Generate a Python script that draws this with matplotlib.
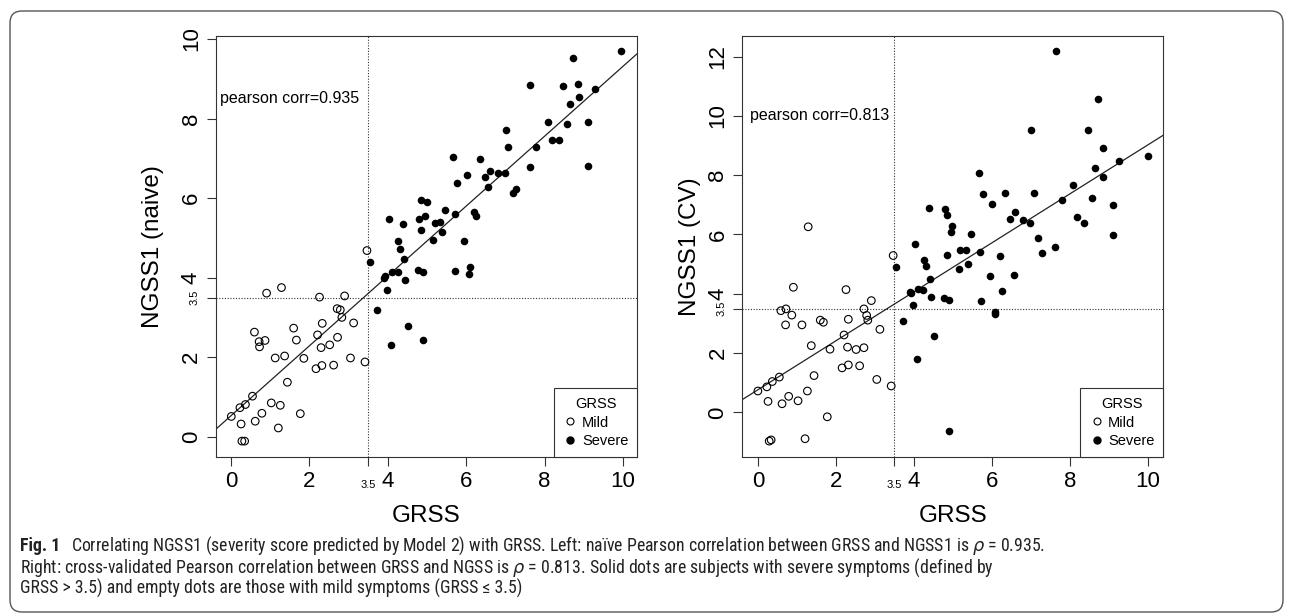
import numpy as np
import matplotlib
matplotlib.use("Agg")
import matplotlib.pyplot as plt
from matplotlib import font_manager
from matplotlib.patches import FancyBboxPatch
from matplotlib.lines import Line2D

# GRSS vs NGSS1 (naive) -- left panel
left_mild_x = [3.47, 0.91, 1.29, 2.26, 2.90, 2.71, 2.79, 2.83, 2.33, 3.13, 0.60, 0.72, 0.73, 0.87,
               1.60, 1.67, 2.21, 2.72, 2.30, 2.52, 1.13, 1.37, 1.86, 3.05, 3.42, 2.17, 2.32, 2.62,
               1.44, 0.55, 0.01, 0.23, 0.37, 1.03, 1.26, 0.79, 1.77, 0.26, 0.62, 1.21, 0.28, 0.35]
left_mild_y = [4.68, 3.61, 3.75, 3.51, 3.54, 3.22, 3.19, 3.00, 2.85, 2.86, 2.63, 2.39, 2.26, 2.42,
               2.73, 2.43, 2.56, 2.50, 2.24, 2.31, 1.98, 2.03, 1.97, 1.98, 1.88, 1.71, 1.79, 1.80,
               1.37, 1.02, 0.51, 0.73, 0.81, 0.85, 0.79, 0.59, 0.58, 0.32, 0.39, 0.22, -0.11, -0.11]
left_severe_x = [9.96, 8.72, 7.64, 8.47, 8.85, 9.28, 8.87, 8.66, 8.09, 8.58, 9.12, 7.01, 7.07, 7.79,
                 8.18, 8.37, 7.62, 9.12, 5.67, 6.35, 6.61, 6.48, 6.80, 6.99, 6.01, 5.77, 6.56, 7.20,
                 7.28, 4.85, 4.99, 5.45, 6.21, 6.26, 5.71, 4.95, 4.80, 4.04, 4.38, 5.21, 5.34, 4.84,
                 5.38, 5.16, 4.26, 5.95, 4.32, 4.41, 3.55, 6.09, 3.90, 3.93, 4.11, 4.25, 4.78, 4.89,
                 5.72, 6.07, 4.43, 3.98, 3.73, 4.51, 4.08, 4.91]
left_severe_y = [9.69, 9.52, 8.85, 8.83, 8.88, 8.74, 8.53, 8.36, 7.92, 7.86, 7.92, 7.72, 7.29, 7.29,
                 7.45, 7.47, 6.79, 6.80, 7.02, 6.98, 6.68, 6.52, 6.63, 6.64, 6.57, 6.37, 6.28, 6.14,
                 6.24, 5.96, 5.91, 5.71, 5.66, 5.54, 5.59, 5.56, 5.47, 5.47, 5.36, 5.37, 5.41, 5.20,
                 5.14, 4.95, 4.93, 4.92, 4.72, 4.48, 4.40, 4.27, 3.98, 4.05, 4.13, 4.14, 4.20, 4.14,
                 4.16, 4.08, 3.94, 3.69, 3.18, 2.79, 2.31, 2.42]

# GRSS vs NGSS1 (CV) -- right panel
right_mild_x = [0.00, 0.23, 0.37, 0.55, 0.26, 0.62, 0.79, 1.03, 1.27, 1.44, 1.37, 1.78, 0.29, 0.34,
                1.21, 1.29, 0.91, 0.59, 0.72, 0.87, 0.71, 1.13, 1.60, 1.68, 1.85, 2.26, 2.21, 2.32,
                2.30, 2.52, 2.72, 2.16, 2.32, 2.61, 2.72, 2.79, 2.82, 2.91, 3.13, 3.05, 3.42, 3.47]
right_mild_y = [0.72, 0.86, 1.04, 1.19, 0.37, 0.29, 0.54, 0.39, 0.72, 1.24, 2.25, -0.15, -0.97, -0.93,
                -0.89, 6.26, 4.22, 3.43, 3.49, 3.28, 2.95, 2.95, 3.11, 3.04, 2.13, 4.14, 2.61, 3.14,
                2.20, 2.12, 2.18, 1.50, 1.60, 1.57, 3.49, 3.27, 3.11, 3.77, 2.80, 1.11, 0.89, 5.29]
right_severe_x = [7.64, 8.73, 7.01, 8.48, 8.85, 10.00, 9.27, 8.66, 8.86, 8.09, 7.79, 8.58, 9.12,
                  5.67, 5.77, 6.35, 7.08, 6.01, 6.60, 6.48, 6.80, 6.99, 8.18, 8.37, 9.12, 4.38,
                  4.79, 4.85, 4.98, 4.95, 5.46, 4.04, 7.18, 7.61, 7.28, 5.19, 5.33, 5.71, 6.21,
                  4.84, 4.26, 4.31, 5.17, 5.39, 3.55, 4.42, 5.95, 6.56, 6.25, 3.91, 3.93, 4.11,
                  4.24, 4.43, 4.78, 4.90, 5.73, 3.99, 6.07, 6.09, 3.73, 4.52, 4.08, 4.91]
right_severe_y = [12.18, 10.56, 9.54, 9.53, 8.93, 8.64, 8.47, 8.23, 7.93, 7.68, 7.15, 7.24, 7.01,
                  8.08, 7.35, 7.41, 7.39, 7.04, 6.76, 6.53, 6.48, 6.40, 6.59, 6.40, 5.97, 6.90,
                  6.87, 6.67, 6.27, 6.07, 6.03, 5.68, 5.89, 5.59, 5.39, 5.46, 5.46, 5.42, 5.29,
                  5.31, 5.15, 4.95, 4.85, 5.00, 4.89, 4.51, 4.60, 4.63, 4.08, 4.06, 4.02, 4.15,
                  4.12, 3.88, 3.87, 3.79, 3.75, 3.61, 3.39, 3.31, 3.07, 2.59, 1.80, -0.64]

corr_left = 0.935
corr_right = 0.813
threshold = 3.5
x_ticks = [0, 2, 4, 6, 8, 10]
left_y_ticks = [0, 2, 4, 6, 8, 10]
right_y_ticks = [0, 2, 4, 6, 8, 10, 12]

plt.rcParams["font.family"] = ["Liberation Sans", "DejaVu Sans"]
plt.rcParams["mathtext.fontset"] = "dejavusans"

W, H = 1293, 615
fig = plt.figure(figsize=(W / 100, H / 100), dpi=100)


def r_lim(vals):
    lo, hi = min(vals), max(vals)
    pad = 0.04 * (hi - lo)
    return lo - pad, hi + pad


def draw_panel(ax, mx, my, sx, sy, corr, ylabel, yticks, text_xy, ylab_x):
    allx = np.array(mx + sx)
    ally = np.array(my + sy)
    ax.set_xlim(r_lim(allx))
    ax.set_ylim(r_lim(ally))

    ax.axvline(threshold, color="#333333", lw=0.8, ls=(0, (1, 1.5)), zorder=1)
    ax.axhline(threshold, color="#333333", lw=0.8, ls=(0, (1, 1.5)), zorder=1)

    # least squares line, like abline(lm(y ~ x))
    m, b = np.polyfit(allx, ally, 1)
    ax.axline((0, b), slope=m, color="#222222", lw=0.9, zorder=2)

    ax.scatter(mx, my, s=30, facecolors="none", edgecolors="black", linewidths=0.8, zorder=3)
    ax.scatter(sx, sy, s=30, color="black", linewidths=0, zorder=3)

    ax.text(text_xy[0], text_xy[1], f"pearson corr={corr}", fontsize=11.5,
            ha="left", va="center")

    ax.set_xticks(x_ticks)
    ax.set_yticks(yticks)
    ax.set_xticks([threshold], minor=True)
    ax.set_yticks([threshold], minor=True)
    ax.set_xticklabels([str(t) for t in x_ticks])
    ax.set_yticklabels([str(t) for t in yticks], rotation=90, va="center")
    ax.set_xticklabels(["3.5"], minor=True)
    ax.set_yticklabels(["3.5"], minor=True, rotation=90, va="center")

    ax.tick_params(which="both", direction="out", length=6.5, width=0.8, color="#333333")
    ax.tick_params(which="major", labelsize=16, pad=3.5)
    ax.tick_params(axis="x", which="minor", labelsize=8, pad=10)
    ax.tick_params(axis="y", which="minor", labelsize=8, pad=5)
    for sp in ax.spines.values():
        sp.set_linewidth(0.8)
        sp.set_color("#333333")

    ax.set_xlabel("GRSS", fontsize=17.5)
    ax.xaxis.label.set_verticalalignment("center")
    ax.xaxis.set_label_coords(0.5, -0.141)
    ax.set_ylabel(ylabel, fontsize=17.5)
    ax.yaxis.label.set_verticalalignment("center")
    ax.yaxis.set_label_coords(ylab_x, 0.5)

    handles = [
        Line2D([], [], ls="none", marker="o", ms=5, mfc="none", mec="black", mew=0.8),
        Line2D([], [], ls="none", marker="o", ms=5, mfc="black", mec="black"),
    ]
    leg = ax.legend(handles, ["Mild", "Severe"], title="GRSS", loc="lower right",
                    borderaxespad=0, fancybox=False, edgecolor="#333333", framealpha=1,
                    fontsize=10.5, title_fontsize=10.5, handlelength=1.0,
                    handletextpad=0.3, borderpad=0.6, labelspacing=0.3)
    leg.get_frame().set_linewidth(0.8)


ax1 = fig.add_axes([215.7 / W, 1 - 456.7 / H, 421.3 / W, 421.0 / H])
ax2 = fig.add_axes([742.3 / W, 1 - 456.7 / H, 421.0 / W, 421.0 / H])

draw_panel(ax1, left_mild_x, left_mild_y, left_severe_x, left_severe_y, corr_left,
           "NGSS1 (naive)", left_y_ticks, (-0.28, 8.5), -0.149)
draw_panel(ax2, right_mild_x, right_mild_y, right_severe_x, right_severe_y, corr_right,
           "NGSS1 (CV)", right_y_ticks, (-0.19, 10.0), -0.124)

# outer rounded frame
frame = FancyBboxPatch((10, H - 612), W - 20, 601, boxstyle="round,pad=0,rounding_size=12",
                       transform=None, fill=False, edgecolor="#555555", lw=1.0)
fig.patches.append(frame)

# caption
avail = {f.name for f in font_manager.fontManager.ttflist}
cap_font = next((f for f in ["Liberation Sans Narrow", "Roboto Condensed", "Open Sans", "Noto Sans"]
                 if f in avail), "DejaVu Sans")

cap_bold = "Fig. 1"
cap_lines = [
    "Correlating NGSS1 (severity score predicted by Model 2) with GRSS. Left: na\u00efve Pearson "
    "correlation between GRSS and NGSS1 is $\\rho$ = 0.935.",
    "Right: cross-validated Pearson correlation between GRSS and NGSS is $\\rho$ = 0.813. "
    "Solid dots are subjects with severe symptoms (defined by",
    "GRSS > 3.5) and empty dots are those with mild symptoms (GRSS \u2264 3.5)",
]
cap_y = [546, 567.5, 589]

renderer = fig.canvas.get_renderer()
size0 = 10.0
tb = fig.text(20 / W, 0, cap_bold, family=cap_font, weight="bold", fontsize=size0)
t1 = fig.text(0, 0, cap_lines[0], family=cap_font, fontsize=size0)
wb = tb.get_window_extent(renderer).width
w1 = t1.get_window_extent(renderer).width
gap = 0.6 * size0 * 100 / 72
size = min(12.8, size0 * 1248 / (wb + gap + w1))
tb.remove()
t1.remove()

gap = 0.6 * size * 100 / 72
tb = fig.text(20 / W, 1 - (cap_y[0] + 5) / H, cap_bold, family=cap_font, weight="bold",
              fontsize=size, va="baseline", color="#222222")
wb = tb.get_window_extent(renderer).width
fig.text((20 + wb + gap) / W, 1 - (cap_y[0] + 5) / H, cap_lines[0], family=cap_font,
         fontsize=size, va="baseline", color="#222222")
for line, y in zip(cap_lines[1:], cap_y[1:]):
    fig.text(20 / W, 1 - (y + 5) / H, line, family=cap_font, fontsize=size,
             va="baseline", color="#222222")

fig.savefig("out.png", dpi=100)
